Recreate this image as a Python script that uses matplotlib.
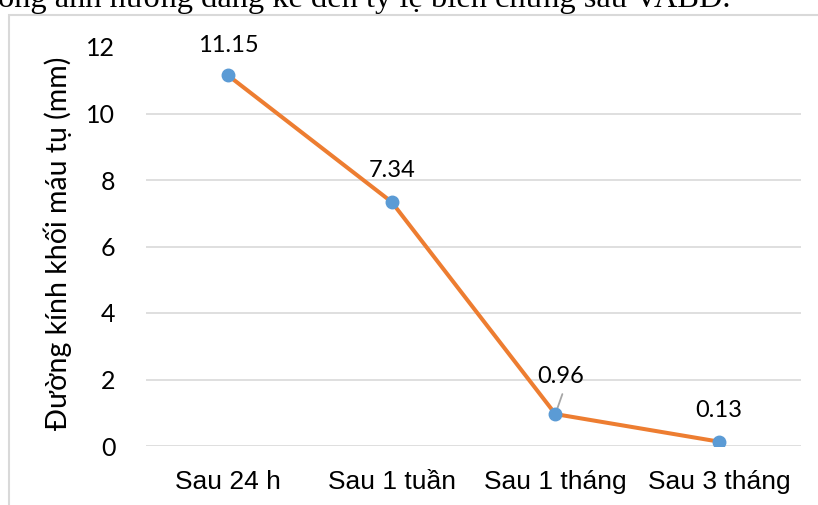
import matplotlib
matplotlib.use("Agg")
import matplotlib.pyplot as plt
from matplotlib.patches import Rectangle

# Hematoma diameter over follow-up time
categories = ["Sau 24 h", "Sau 1 tuần", "Sau 1 tháng", "Sau 3 tháng"]
diameters = [11.15, 7.34, 0.96, 0.13]
value_labels = ["11.15", "7.34", "0.96", "0.13"]
y_ticks = [0, 2, 4, 6, 8, 10, 12]
y_title = "Đường kính khối máu tụ (mm)"
caption_line = "ồng ảnh hưởng đáng kể đến tỷ lệ biến chứng sau VABD."

W, H = 818, 505
PT = 72 / 100  # points per pixel at 100 dpi
fig = plt.figure(figsize=(W / 100, H / 100), dpi=100)
fig.patch.set_facecolor("white")

# caption line of the surrounding text, partly above the page edge
fig.text(-2 / W, 1 - 7 / H, caption_line, family="Liberation Serif",
         fontsize=23.4, va="baseline", ha="left", color="black")

# chart frame
fig.add_artist(Rectangle((9 / W, -0.05), 1.2, 1 - 15 / H + 0.05,
                         transform=fig.transFigure, fill=False,
                         edgecolor="#D9D9D9", linewidth=1.5))

ax = fig.add_axes([146 / W, (H - 446) / H, (801 - 146) / W, (446 - 47) / H])
ax.set_xlim(-0.5, len(categories) - 0.5)
ax.set_ylim(0, 12)

for t in y_ticks[:-1]:
    ax.axhline(t, color="#D9D9D9", linewidth=1.2, zorder=0)

x = list(range(len(categories)))
ax.plot(x, diameters, color="#ED7D31", linewidth=2.9, zorder=2,
        solid_capstyle="round")
ax.plot(x, diameters, linestyle="none", marker="o", markersize=9,
        color="#5B9BD5", zorder=3)

# data labels (offsets in pixels, converted to points)
offsets_px = [(0, 23), (0, 25), (5, 31), (0, 25)]
for xi, v, lab, (dx, dy) in zip(x, diameters, value_labels, offsets_px):
    ax.annotate(lab, (xi, v), xytext=(dx * PT, dy * PT),
                textcoords="offset points", ha="center", va="baseline",
                fontsize=17, family="Lato", zorder=4)

# leader line from the "0.96" label to its point
i_lead = value_labels.index("0.96")
ax.annotate("", xy=(x[i_lead], diameters[i_lead]),
            xytext=(7 * PT, 20 * PT), textcoords="offset points",
            arrowprops=dict(arrowstyle="-", color="#A6A6A6", lw=1.3,
                            shrinkA=0, shrinkB=1.5), zorder=2.5)

ax.set_xticks(x)
ax.set_xticklabels(categories, family="Liberation Sans", fontsize=19)
for lab in ax.get_xticklabels():
    lab.set_verticalalignment("baseline")
ax.set_yticks(y_ticks)
ax.set_yticklabels([str(t) for t in y_ticks], family="Lato", fontsize=18)
ax.tick_params(axis="both", length=0)
ax.tick_params(axis="y", pad=22)
ax.tick_params(axis="x", pad=43 * PT)
for s in ax.spines.values():
    s.set_visible(False)
ax.set_facecolor("none")

fig.text(58 / W, (H - 243) / H, y_title, rotation=90, family="Lato",
         fontsize=20.5, ha="center", va="center")

fig.savefig("out.png", dpi=100)
